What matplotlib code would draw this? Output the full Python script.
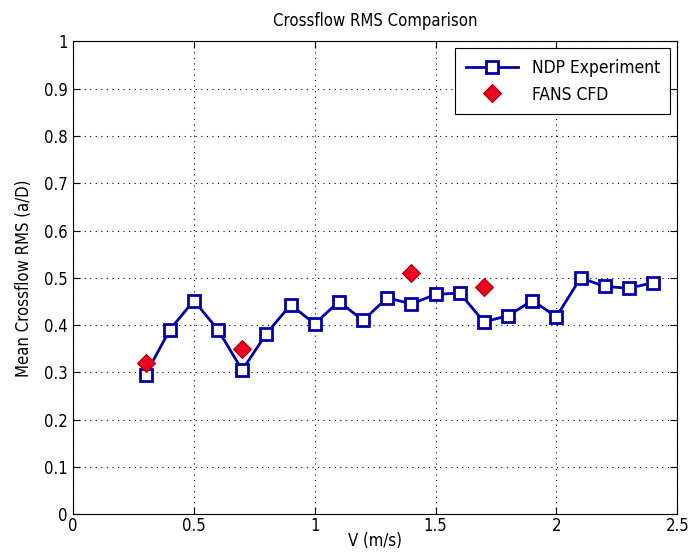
import matplotlib
matplotlib.use('Agg')
import matplotlib.pyplot as plt

plt.rcParams['font.family'] = ['DejaVu Sans']
plt.rcParams['font.stretch'] = 'condensed'

# NDP experiment data
v_exp = [0.3, 0.4, 0.5, 0.6, 0.7, 0.8, 0.9, 1.0, 1.1, 1.2, 1.3,
         1.4, 1.5, 1.6, 1.7, 1.8, 1.9, 2.0, 2.1, 2.2, 2.3, 2.4]
rms_exp = [0.295, 0.39, 0.452, 0.39, 0.305, 0.382, 0.443, 0.403, 0.45, 0.41, 0.458,
           0.445, 0.465, 0.468, 0.407, 0.42, 0.452, 0.418, 0.50, 0.482, 0.478, 0.49]

# FANS CFD data
v_cfd = [0.3, 0.7, 1.4, 1.7]
rms_cfd = [0.32, 0.35, 0.51, 0.48]

xticks = [0, 0.5, 1, 1.5, 2, 2.5]
xticklabels = ['0', '0.5', '1', '1.5', '2', '2.5']
yticks = [i / 10 for i in range(11)]
yticklabels = ['0', '0.1', '0.2', '0.3', '0.4', '0.5', '0.6', '0.7', '0.8', '0.9', '1']

fig = plt.figure(figsize=(6.89, 5.53), dpi=100)
ax = fig.add_axes([0.106, 0.07, 0.877, 0.855])

ax.plot(v_exp, rms_exp, color='#0000aa', linewidth=2, marker='s', markersize=8,
        markerfacecolor='white', markeredgecolor='#0000aa', markeredgewidth=2,
        label='NDP Experiment')
ax.plot(v_cfd, rms_cfd, linestyle='none', marker='D', markersize=9.5,
        markerfacecolor='#ee0022', markeredgecolor='#aa0000', markeredgewidth=0.8,
        label='FANS CFD')

ax.set_xlim(0, 2.5)
ax.set_ylim(0, 1)
ax.set_xticks(xticks)
ax.set_xticklabels(xticklabels)
ax.set_yticks(yticks)
ax.set_yticklabels(yticklabels)
ax.tick_params(direction='in', top=True, right=True, labelsize=12, length=5, pad=4)
ax.tick_params(axis='x', pad=2)
ax.grid(True, color='black', linestyle=(0, (1, 4)), linewidth=0.8)

for s in ax.spines.values():
    s.set_linewidth(0.8)

ax.set_xlabel('V (m/s)', fontsize=12, labelpad=-2)
ax.set_ylabel('Mean Crossflow RMS (a/D)', fontsize=12, labelpad=8)
ax.set_title('Crossflow RMS Comparison', fontsize=12, pad=11)

leg = ax.legend(loc='upper right', fontsize=12.5, fancybox=False, framealpha=1,
                edgecolor='black', borderaxespad=0.4, handlelength=3.0,
                borderpad=0.6, labelspacing=0.5)
leg.get_frame().set_linewidth(0.8)

fig.savefig('out.png', dpi=100)
